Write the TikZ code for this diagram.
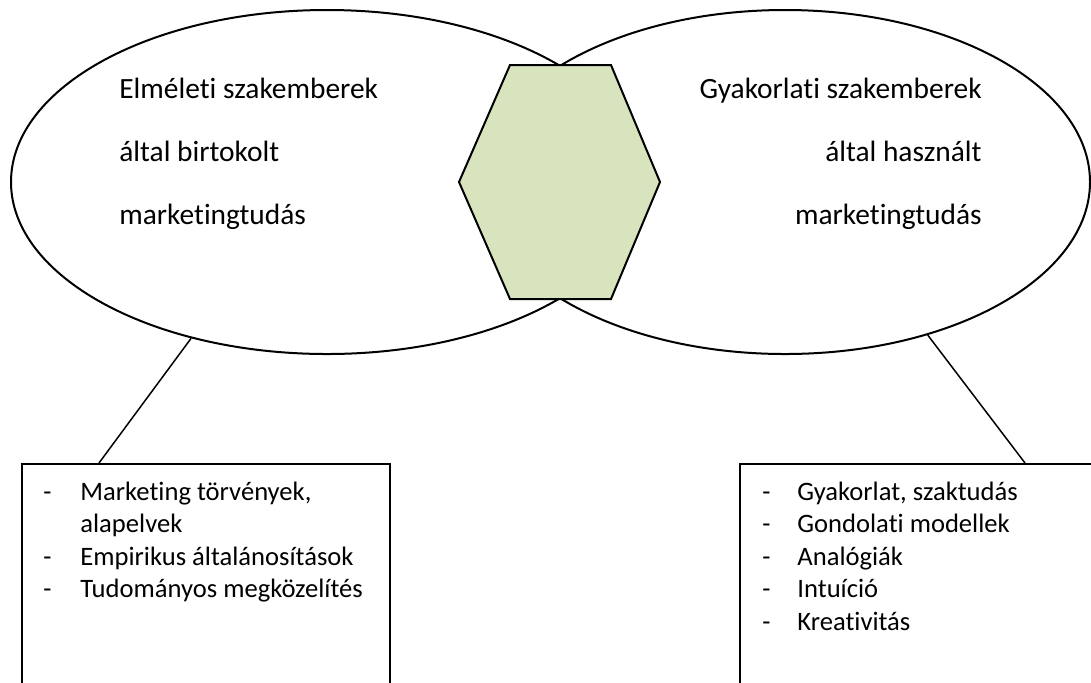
\documentclass[tikz,border=0pt]{standalone}
\usepackage{fontspec}
\setmainfont{Carlito}[Ligatures=NoCommon]
\usepackage{tikz}
\usetikzlibrary{positioning, shapes.geometric, calc}
\definecolor{hexgreen}{RGB}{215,228,189}
\tikzset{
  knbubble/.style = {ellipse, draw=black, fill=white, line width=1pt, inner sep=0pt},
  knhex/.style = {draw=black, fill=hexgreen, line width=1pt, line join=miter},
  knbox/.style = {rectangle, draw=black, fill=white, line width=1pt, anchor=north west,
                  minimum width=184pt, minimum height=125pt, inner sep=0pt},
  knhead/.style = {inner sep=0pt, font=\fontsize{14.7}{31.5}\selectfont},
  knlist/.style = {inner sep=0pt, anchor=base west, font=\fontsize{13.3}{16.3}\selectfont},
  knlink/.style = {draw=black, line width=0.75pt}
}
\begin{document}
\begin{tikzpicture}[x=0.5pt, y=-0.5pt]
\useasboundingbox (0,0) rectangle (1091,682);
\clip (0,0) rectangle (1091,682);

\node[knbubble, minimum width=316pt, minimum height=172pt] (elm)  at (327,182) {};
\node[knbubble, minimum width=305pt, minimum height=172pt] (gyak) at (785,182) {};
\draw[knhex] (459,182) -- (510,65) -- (611,65) -- (660,182) -- (611,299) -- (510,299) -- cycle;

\node[knhead, anchor=base west] (elmtxt) at (119,98)
  {\begin{tabular}[t]{@{}l@{}}Elméleti szakemberek\\ által birtokolt\\ marketingtudás\end{tabular}};
\node[knhead, anchor=base east] (gyaktxt) at (982,98)
  {\begin{tabular}[t]{@{}r@{}}Gyakorlati szakemberek\\ által használt\\ marketingtudás\end{tabular}};

\node[knbox] (elmbox)  at (21,463)  {};
\node[knbox] (gyakbox) at (739,463) {};

\node[knlist] (elmlist) at (43,500)
  {\begin{tabular}[t]{@{}p{18.5pt}@{}l@{}}
   - & Marketing törvények,\\
     & alapelvek\\
   - & Empirikus általánosítások\\
   - & Tudományos megközelítés
   \end{tabular}};
\node[knlist] (gyaklist) at (762,500)
  {\begin{tabular}[t]{@{}p{17.5pt}@{}l@{}}
   - & Gyakorlat, szaktudás\\
   - & Gondolati modellek\\
   - & Analógiák\\
   - & Intuíció\\
   - & Kreativitás
   \end{tabular}};

\draw[knlink] (elm.229.5) -- ($(elmbox.north west)+(78,0)$);
\draw[knlink] (gyak.313.3) -- ($(gyakbox.north west)+(286,0)$);
\end{tikzpicture}
\end{document}
